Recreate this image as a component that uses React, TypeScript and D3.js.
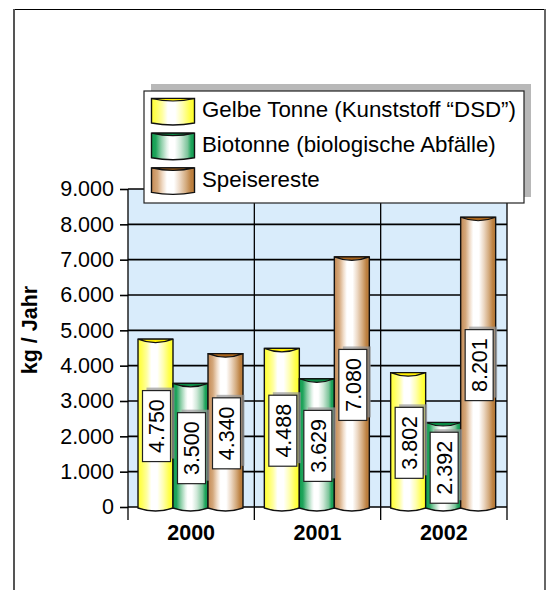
import React, { useEffect, useRef } from 'react';
import * as d3 from 'd3';

const years = ['2000', '2001', '2002'];
const seriesNames = ['Gelbe Tonne (Kunststoff “DSD”)', 'Biotonne (biologische Abfälle)', 'Speisereste'];
const gelbeTonne = [4750, 4488, 3802];
const biotonne = [3500, 3629, 2392];
const speisereste = [4340, 7080, 8201];
const yTicks = [0, 1000, 2000, 3000, 4000, 5000, 6000, 7000, 8000, 9000];
const seriesValues = [gelbeTonne, biotonne, speisereste];
const capColors = ['#ffee00', '#0b8a45', '#a8641c'];

// colour bands across a cylinder, left to right: [offset, colour]
const yellowBands: [number, string][] = [[0, '#ffff30'], [0.12, '#ffff60'], [0.25, '#ffffa0'], [0.38, '#ffffff'], [0.55, '#ffffff'], [0.72, '#ffffb0'], [0.88, '#ffff50'], [1, '#ffff20']];
const greenBands: [number, string][] = [[0, '#10a050'], [0.1, '#20a45c'], [0.22, '#88cca4'], [0.36, '#e4f3ea'], [0.42, '#ffffff'], [0.54, '#ffffff'], [0.68, '#cfe8d8'], [0.84, '#7cc49a'], [0.92, '#20a45c'], [1, '#109a50']];
const brownBands: [number, string][] = [[0, '#c48a54'], [0.14, '#d4a87c'], [0.26, '#f0dcc8'], [0.36, '#ffffff'], [0.52, '#ffffff'], [0.66, '#ecd8c4'], [0.8, '#d4ac80'], [0.92, '#bc8040'], [1, '#b87a38']];
const bandSets = [yellowBands, greenBands, brownBands];

const font = '"Liberation Sans", Arial, sans-serif';
const deFormat = d3.formatLocale({ decimal: ',', thousands: '.', grouping: [3], currency: ['', ''] }).format(',d');

const App = () => {
  const svgRef = useRef<SVGSVGElement>(null);

  useEffect(() => {
    const svg = d3.select(svgRef.current);
    svg.selectAll('*').remove();

    const left = 128, right = 507, top = 189, bottom = 507;

    const x = d3.scaleBand().domain(years).range([left, right]);
    const inner = d3.scaleBand().domain(['0', '1', '2']).range([10, 115]);
    const y = d3.scaleLinear().domain([0, 9000]).range([bottom, top]);

    // cylinder shading
    const defs = svg.append('defs');
    bandSets.forEach((bands, i) => {
      const grad = defs.append('linearGradient').attr('id', `cyl-${i}`);
      bands.forEach(([o, col]) => {
        grad.append('stop').attr('offset', o).attr('stop-color', col);
      });
    });

    // page frame
    svg.append('line').attr('x1', 14).attr('x2', 545).attr('y1', 9.5).attr('y2', 9.5).attr('stroke', '#000').attr('stroke-width', 1.2);
    svg.append('line').attr('x1', 14).attr('x2', 14).attr('y1', 9).attr('y2', 590).attr('stroke', '#555').attr('stroke-width', 2);
    svg.append('line').attr('x1', 545).attr('x2', 545).attr('y1', 9).attr('y2', 590).attr('stroke', '#666').attr('stroke-width', 2);

    svg.append('rect').attr('x', left).attr('y', top).attr('width', right - left).attr('height', bottom - top).attr('fill', '#d9ecfb');

    // grid + axes
    const yAxis = d3.axisLeft(y).tickValues(yTicks).tickFormat(d => deFormat(d as number)).tickSize(8).tickPadding(6);
    const gy = svg.append('g').attr('transform', `translate(${left},0)`).call(yAxis);
    gy.select('.domain').remove();
    gy.selectAll('line').attr('stroke', '#000').attr('stroke-width', 1.6);
    gy.selectAll('text').attr('font-family', font).attr('font-size', 21.5).attr('fill', '#000');

    svg.append('g').selectAll('line').data(yTicks).enter().append('line')
      .attr('x1', left).attr('x2', right).attr('y1', d => y(d)).attr('y2', d => y(d))
      .attr('stroke', '#000').attr('stroke-width', 1.6);

    const vLines = [left, ...years.map(d => (x(d) as number) + x.bandwidth())];
    svg.append('g').selectAll('line').data(vLines).enter().append('line')
      .attr('x1', d => d).attr('x2', d => d).attr('y1', top).attr('y2', bottom + 13)
      .attr('stroke', '#000').attr('stroke-width', 1.3);

    // flat-topped cylinder with a crescent for the opening
    const cylinder = (bx: number, w: number, yTop: number, yBot: number, i: number, g: any, ry = 3) => {
      g.append('path')
        .attr('d', `M${bx},${yTop}V${yBot}Q${bx + w / 2},${yBot + 2 * ry} ${bx + w},${yBot}V${yTop}Z`)
        .attr('fill', `url(#cyl-${i})`).attr('stroke', '#111').attr('stroke-width', 1.4);
      g.append('path')
        .attr('d', `M${bx},${yTop}Q${bx + w / 2},${yTop + 2 * ry + 1} ${bx + w},${yTop}Z`)
        .attr('fill', capColors[i]).attr('stroke', '#111').attr('stroke-width', 1.2);
    };

    const bars = svg.append('g');
    years.forEach((yr, yi) => {
      seriesValues.forEach((vals, si) => {
        const bx = (x(yr) as number) + (inner(String(si)) as number);
        cylinder(bx, inner.bandwidth(), y(vals[yi]), bottom + 1, si, bars);
      });
    });

    // value labels
    const labels = svg.append('g');
    years.forEach((yr, yi) => {
      seriesValues.forEach((vals, si) => {
        const cx = (x(yr) as number) + (inner(String(si)) as number) + inner.bandwidth() / 2 + 1;
        const cy = (y(vals[yi]) + bottom) / 2 + 3;
        const bw = 28, bh = 71;
        labels.append('rect').attr('x', cx - bw / 2 + 4).attr('y', cy - bh / 2 - 3).attr('width', bw).attr('height', bh)
          .attr('fill', '#999').attr('opacity', 0.7);
        labels.append('rect').attr('x', cx - bw / 2).attr('y', cy - bh / 2).attr('width', bw).attr('height', bh)
          .attr('fill', '#fff').attr('stroke', '#222').attr('stroke-width', 1.2);
        labels.append('text').attr('transform', `translate(${cx},${cy}) rotate(-90)`)
          .attr('text-anchor', 'middle').attr('dy', '0.36em')
          .attr('font-family', font).attr('font-size', 21.5).attr('fill', '#000')
          .text(deFormat(vals[yi]));
      });
    });

    // category labels
    svg.append('g').selectAll('text').data(years).enter().append('text')
      .attr('x', d => (x(d) as number) + x.bandwidth() / 2).attr('y', 540)
      .attr('text-anchor', 'middle').attr('font-family', font).attr('font-size', 21.5).attr('font-weight', 'bold')
      .text(d => d);

    svg.append('text').attr('transform', 'translate(37,330) rotate(-90)')
      .attr('text-anchor', 'middle').attr('font-family', font).attr('font-size', 21.5).attr('font-weight', 'bold')
      .text('kg / Jahr');

    // legend
    svg.append('rect').attr('x', 151).attr('y', 84).attr('width', 380).attr('height', 113).attr('fill', '#b8b8b8');
    svg.append('rect').attr('x', 144).attr('y', 91).attr('width', 380).attr('height', 112)
      .attr('fill', '#fff').attr('stroke', '#222').attr('stroke-width', 1.2);
    seriesNames.forEach((name, i) => {
      const ly = 98.5 + i * 34.7;
      cylinder(151.5, 43, ly, ly + 24.5, i, svg, 2);
      svg.append('text').attr('x', 202).attr('y', 117 + i * 34.8)
        .attr('font-family', font).attr('font-size', 22.3).attr('fill', '#000').text(name);
    });
  }, []);

  return <svg ref={svgRef} width={546} height={590} style={{ position: 'absolute', left: 0, top: 0, background: '#fff' }} />;
};

export default App;
